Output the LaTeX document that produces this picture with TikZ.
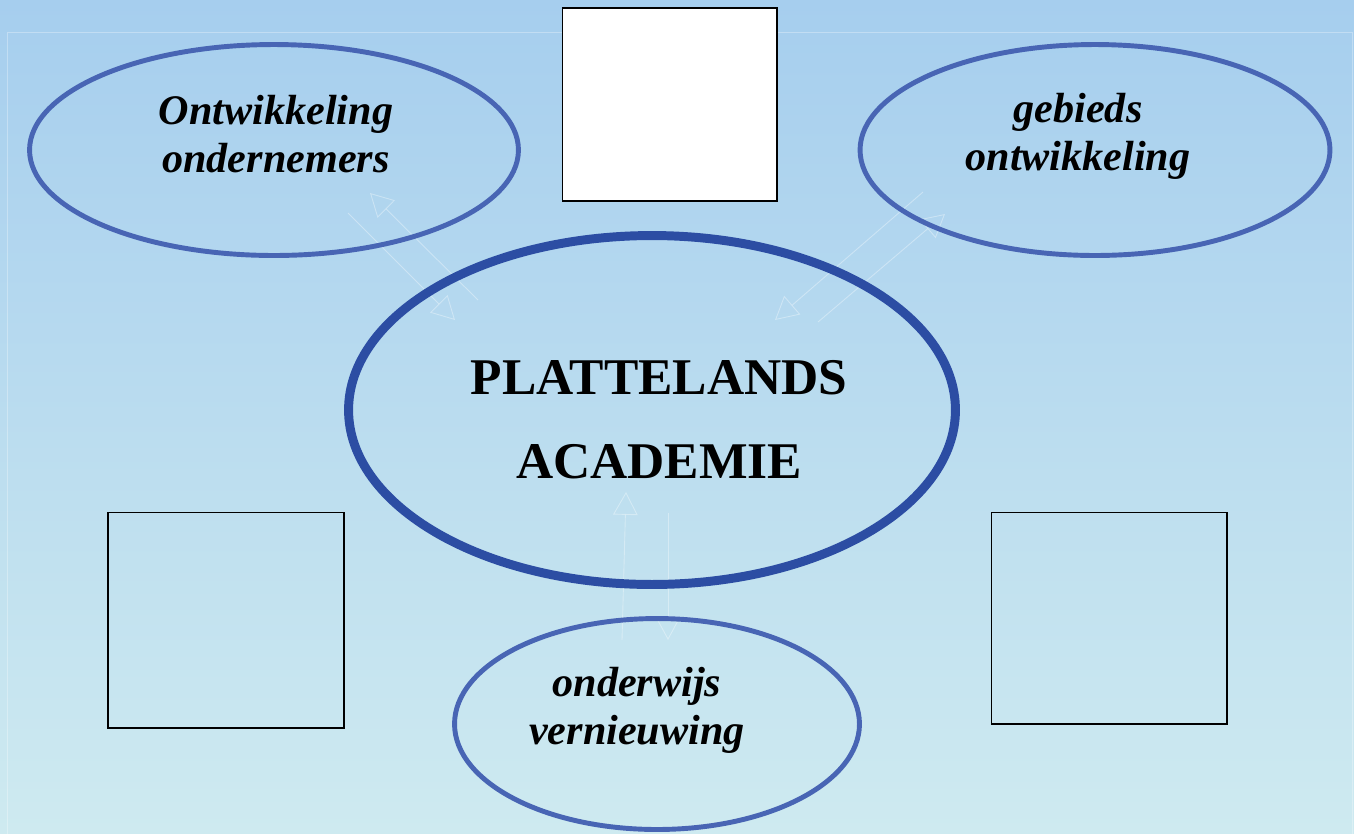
\documentclass[tikz,border=0pt]{standalone}
\usepackage{fontspec}
\setmainfont{Liberation Serif}
\usetikzlibrary{shapes.geometric,arrows.meta}
\definecolor{bgtop}{RGB}{166,206,238}
\definecolor{bgmid}{RGB}{186,228,246}
\definecolor{bgbot}{RGB}{206,234,240}
\definecolor{ringblue}{RGB}{72,101,180}
\definecolor{coreblue}{RGB}{44,77,163}

\begin{document}
\begin{tikzpicture}[x=0.02cm, y=-0.02cm,
ring/.style={ellipse, draw=ringblue, line width=2.8pt, inner sep=0pt, minimum height=4.22cm},
core/.style={ellipse, draw=coreblue, line width=5.1pt, inner sep=0pt},
frame/.style={draw=black, line width=0.6pt, inner sep=0pt},
theme/.style={align=center, font=\bfseries\itshape\fontsize{24}{27.2}\selectfont},
title/.style={align=center, font=\bfseries\fontsize{29.3}{47.6}\selectfont},
flow/.style={draw=white, opacity=0.35, line width=0.5pt, -{Triangle[open, length=13pt, width=14pt]}}]
\useasboundingbox (0,0) rectangle (1354,833);
\shade[top color=bgtop, middle color=bgmid, bottom color=bgbot] (0,0) rectangle (1354,833);
\draw[white, opacity=0.3, line width=0.5pt] (7,32) rectangle (1352,840);

% pijlen heen en terug
\coordinate (a1) at (478,300); \coordinate (a2) at (370,193);
\coordinate (b1) at (348,213); \coordinate (b2) at (455,320);
\coordinate (c1) at (923,192); \coordinate (c2) at (775,320);
\coordinate (d1) at (818,322); \coordinate (d2) at (945,214);
\coordinate (e1) at (622,640); \coordinate (e2) at (626,492);
\coordinate (f1) at (668,513); \coordinate (f2) at (668,640);
\draw[flow] (a1) -- (a2);
\draw[flow] (b1) -- (b2);
\draw[flow] (c1) -- (c2);
\draw[flow] (d1) -- (d2);
\draw[flow] (e1) -- (e2);
\draw[flow] (f1) -- (f2);

% vier thema's rond de academie
\node[ring, minimum width=9.78cm] (ondernemers) at (274,150) {};
\node[ring, minimum width=9.40cm] (gebied) at (1095,150) {};
\node[ring, minimum width=8.10cm] (onderwijs) at (657,724) {};
\node[core, minimum width=12.14cm, minimum height=6.98cm] (academie) at (652,410) {};

% teksten
\node[theme] (t1) at (276,134) {Ontwikkeling\\ondernemers};
\node[theme] (t2) at (1078,136) {gebieds\\ontwikkeling};
\node[theme] (t3) at (637,710) {onderwijs\\vernieuwing};
\node[title] (t4) at (659,420) {PLATTELANDS\\ACADEMIE};

% lege kaders
\node[frame, fill=white, minimum width=4.30cm, minimum height=3.86cm] (foto) at (669.5,104.5) {};
\node[frame, minimum width=4.72cm, minimum height=4.32cm] (links) at (226,620) {};
\node[frame, minimum width=4.72cm, minimum height=4.24cm] (rechts) at (1109,618) {};
\end{tikzpicture}
\end{document}
